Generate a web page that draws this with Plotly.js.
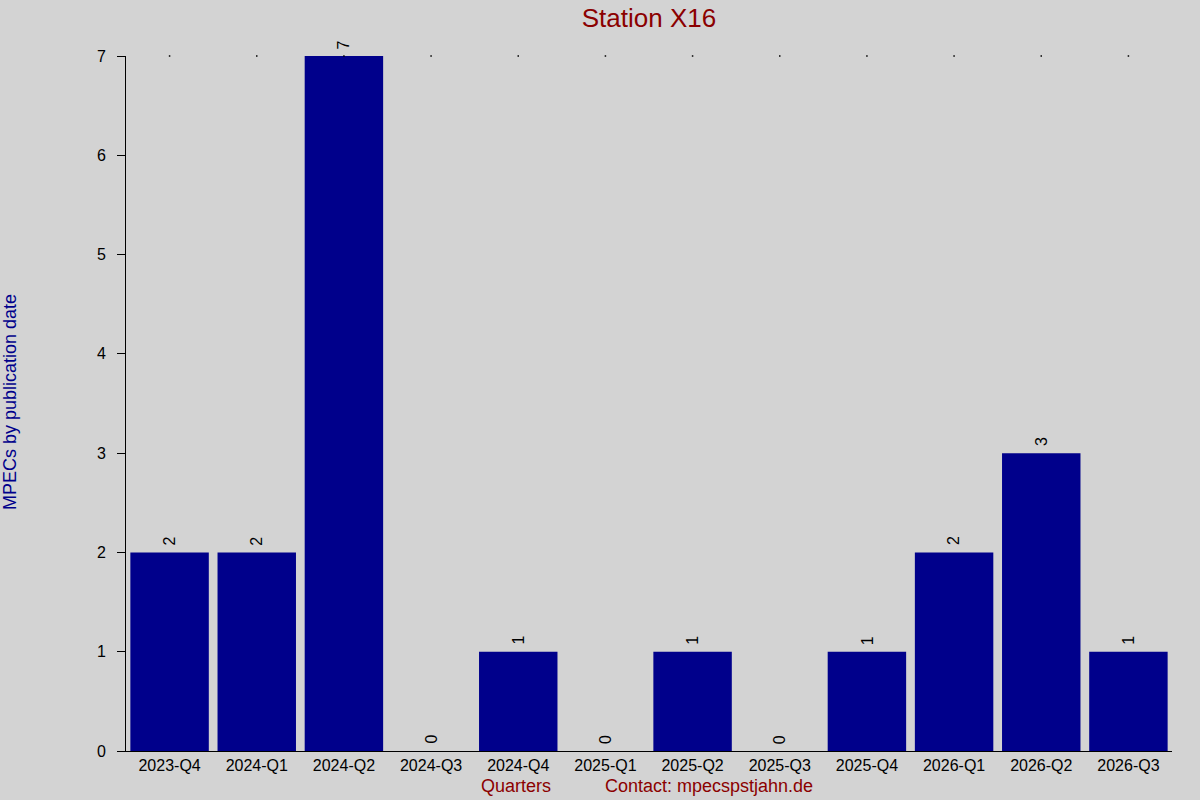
<!DOCTYPE html>
<html>
<head>
<meta charset="utf-8">
<script src="https://cdn.plot.ly/plotly-3.0.1.min.js"></script>
<style>html,body{margin:0;padding:0;background:#d3d3d3;}#chart{width:1200px;height:800px;}</style>
</head>
<body>
<div id="chart"></div>
<script>
const quarters = ["2023-Q4","2024-Q1","2024-Q2","2024-Q3","2024-Q4","2025-Q1","2025-Q2","2025-Q3","2025-Q4","2026-Q1","2026-Q2","2026-Q3"];
const mpecs = [2, 2, 7, 0, 1, 0, 1, 0, 1, 2, 3, 1];
const yTicks = [0, 1, 2, 3, 4, 5, 6, 7];
const yMax = 7;

const font = "Liberation Sans, Arial, sans-serif";

const bars = {
  type: "bar",
  x: quarters,
  y: mpecs,
  marker: {color: "#00008b", line: {width: 0}},
  hoverinfo: "x+y"
};

const topTicks = {
  type: "scatter",
  mode: "markers",
  x: quarters,
  y: quarters.map(() => yMax),
  marker: {color: "#000000", size: 1.5, symbol: "square"},
  cliponaxis: false,
  hoverinfo: "skip",
  showlegend: false
};

const valueLabels = quarters.map((q, i) => ({
  text: String(mpecs[i]),
  x: q, y: mpecs[i],
  xref: "x", yref: "y",
  xanchor: "center", yanchor: "bottom",
  yshift: 5,
  textangle: -90,
  showarrow: false,
  font: {family: font, size: 16, color: "#000000"}
}));

const layout = {
  width: 1200,
  height: 800,
  paper_bgcolor: "#d3d3d3",
  plot_bgcolor: "#d3d3d3",
  margin: {l: 126, r: 28, t: 56, b: 49},
  showlegend: false,
  bargap: 0.1,
  font: {family: font, size: 16, color: "#000000"},
  title: {
    text: "Station X16",
    font: {family: font, size: 26, color: "#8b0000"},
    x: 0.5, xref: "paper", xanchor: "center",
    y: 1 - 18 / 800, yref: "container", yanchor: "middle"
  },
  xaxis: {
    type: "category",
    range: [-0.5, quarters.length - 0.5],
    showline: true, linecolor: "#000000", linewidth: 1,
    ticks: "", showgrid: false, zeroline: false,
    tickfont: {family: font, size: 16, color: "#000000"},
    fixedrange: true
  },
  yaxis: {
    range: [0, yMax],
    tickvals: yTicks,
    ticktext: yTicks.map(String),
    showline: true, linecolor: "#000000", linewidth: 1,
    ticks: "outside", ticklen: 8, tickcolor: "#000000", tickwidth: 1,
    ticklabelstandoff: 8,
    showgrid: false, zeroline: false,
    tickfont: {family: font, size: 16, color: "#000000"},
    fixedrange: true
  },
  annotations: valueLabels.concat([
    {
      text: "MPECs by publication date",
      xref: "paper", yref: "paper",
      x: (10 - 126) / 1046, y: (751 - 402) / 695,
      xanchor: "center", yanchor: "middle",
      textangle: -90, showarrow: false,
      font: {family: font, size: 18, color: "#00008b"}
    },
    {
      text: "Quarters",
      xref: "paper", yref: "paper",
      x: (516 - 126) / 1046, y: (751 - 786) / 695,
      xanchor: "center", yanchor: "middle",
      showarrow: false,
      font: {family: font, size: 18, color: "#8b0000"}
    },
    {
      text: "Contact: mpecspstjahn.de",
      xref: "paper", yref: "paper",
      x: (603 - 126) / 1046, y: (751 - 786) / 695,
      xanchor: "left", yanchor: "middle",
      showarrow: false,
      font: {family: font, size: 18, color: "#8b0000"}
    }
  ])
};

Plotly.newPlot("chart", [bars, topTicks], layout, {displayModeBar: false, staticPlot: true});
</script>
</body>
</html>
